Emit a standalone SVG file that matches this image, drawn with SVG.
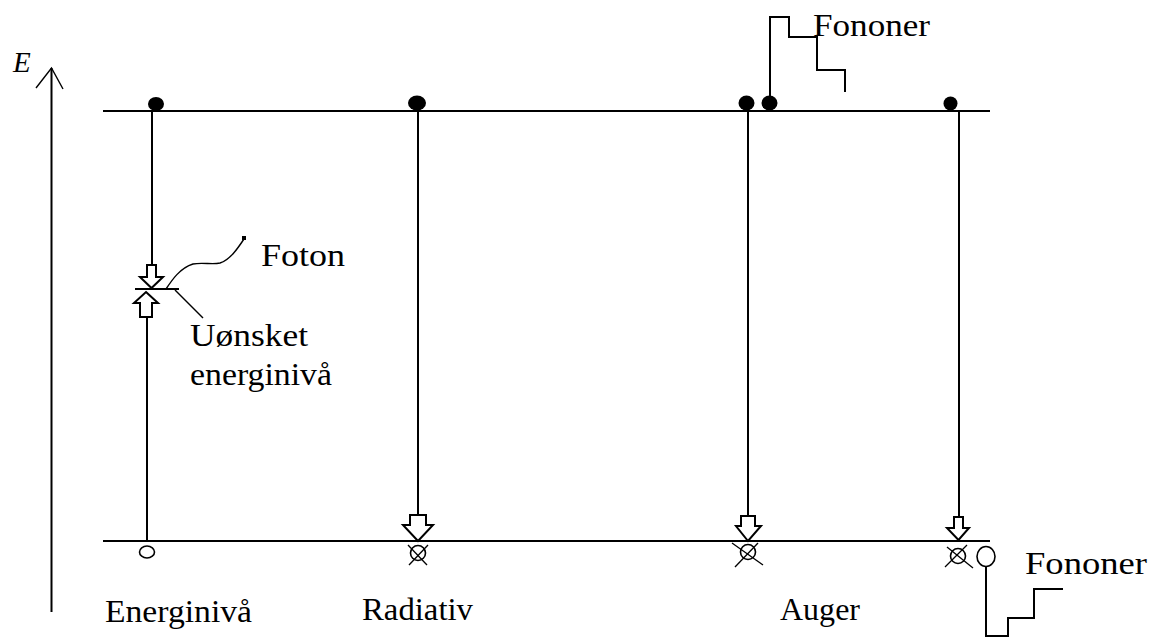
<svg xmlns="http://www.w3.org/2000/svg" width="1156" height="637" viewBox="0 0 1156 637">
<style>
.ln{stroke:#000;stroke-width:2;fill:none}
.thin{stroke:#000;stroke-width:1.4;fill:none}
.arr{stroke:#000;stroke-width:2;fill:#fff;stroke-linejoin:miter}
.dot{fill:#000}
.hole{stroke:#000;stroke-width:1.6;fill:#fff}
.x{stroke:#000;stroke-width:1.3}
text{font-family:"Liberation Serif","Times New Roman",serif;font-size:32px;fill:#000}
</style>
<rect width="1156" height="637" fill="#fff"/>
<g id="axis">
<line class="ln" x1="51.5" y1="68" x2="51.5" y2="612"/>
<polyline class="thin" points="36,88 51.5,68 63,89"/>
<text x="13" y="72" font-style="italic" style="font-size:29px">E</text>
</g>
<g id="levels">
<line class="ln" x1="103" y1="111" x2="990" y2="111"/>
<line class="ln" x1="103" y1="541" x2="990" y2="541"/>
</g>
<g id="connectors">
<line class="ln" x1="152" y1="111" x2="152" y2="265"/>
<line class="ln" x1="147" y1="317" x2="147" y2="541"/>
<line class="ln" x1="418" y1="111" x2="418" y2="515"/>
<line class="ln" x1="748" y1="111" x2="748" y2="516"/>
<line class="ln" x1="959" y1="111" x2="959" y2="517"/>
<polyline class="ln" points="770,103 770,17 789,17 789,37 817,37 817,70 845,70 845,92"/>
<polyline class="ln" points="986,566 986,636 1008,636 1008,618 1034,618 1034,589 1063,589"/>
</g>
<g id="node-energiniva">
<ellipse class="dot" cx="156" cy="104" rx="8" ry="7"/>
<polygon class="arr" points="147,265 156,265 156,277 163,277 151.5,288 140,277 147,277"/>
<line class="ln" x1="135" y1="289" x2="179" y2="289"/>
<polygon class="arr" points="146,292 158,303 152,303 152,317 140,317 140,303 134,303"/>
<ellipse class="hole" cx="147" cy="552" rx="7.5" ry="6"/>
<path class="thin" d="M166,289 C172,280 180,268 193,264 C203,262 212,265 220,263 C230,260 238,248 244,239"/>
<rect x="242" y="236" width="4" height="4" class="dot"/>
<line class="thin" x1="175" y1="290" x2="203" y2="318"/>
<text x="261" y="266" textLength="84" lengthAdjust="spacingAndGlyphs">Foton</text>
<text x="190" y="346" textLength="118" lengthAdjust="spacingAndGlyphs">Uønsket</text>
<text x="190" y="385" textLength="142" lengthAdjust="spacingAndGlyphs">energinivå</text>
<text x="105" y="622" textLength="147" lengthAdjust="spacingAndGlyphs">Energinivå</text>
</g>
<g id="node-radiativ">
<ellipse class="dot" cx="417" cy="103" rx="9" ry="7.5"/>
<polygon class="arr" points="410,515 426,515 426,525 433,525 418,541 403,525 410,525"/>
<circle class="hole" cx="418" cy="553" r="7.5"/>
<line class="x" x1="408" y1="545" x2="427" y2="565"/>
<line class="x" x1="428" y1="545" x2="409" y2="565"/>
<text x="362" y="620" textLength="111" lengthAdjust="spacingAndGlyphs">Radiativ</text>
</g>
<g id="node-auger">
<ellipse class="dot" cx="746.5" cy="103" rx="8" ry="7.5"/>
<ellipse class="dot" cx="769.5" cy="103" rx="8" ry="7.5"/>
<polygon class="arr" points="741,516 755,516 755,526 761,526 748,541 736,526 741,526"/>
<circle class="hole" cx="748" cy="552" r="7.5"/>
<line class="x" x1="732" y1="543" x2="763" y2="565"/>
<line class="x" x1="758" y1="543" x2="735" y2="567"/>
<text x="813" y="36" textLength="117" lengthAdjust="spacingAndGlyphs">Fononer</text>
<text x="780" y="620" textLength="80" lengthAdjust="spacingAndGlyphs">Auger</text>
</g>
<g id="node-right">
<ellipse class="dot" cx="950.5" cy="103.5" rx="7" ry="7"/>
<polygon class="arr" points="954,517 963,517 963,528 969,528 958.5,540 947,528 954,528"/>
<circle class="hole" cx="958" cy="556" r="7.5"/>
<line class="x" x1="947" y1="547" x2="973" y2="568"/>
<line class="x" x1="967" y1="545" x2="945" y2="567"/>
<ellipse class="hole" cx="986" cy="556.5" rx="9" ry="10"/>
<text x="1025" y="574" textLength="122" lengthAdjust="spacingAndGlyphs">Fononer</text>
</g>
</svg>
